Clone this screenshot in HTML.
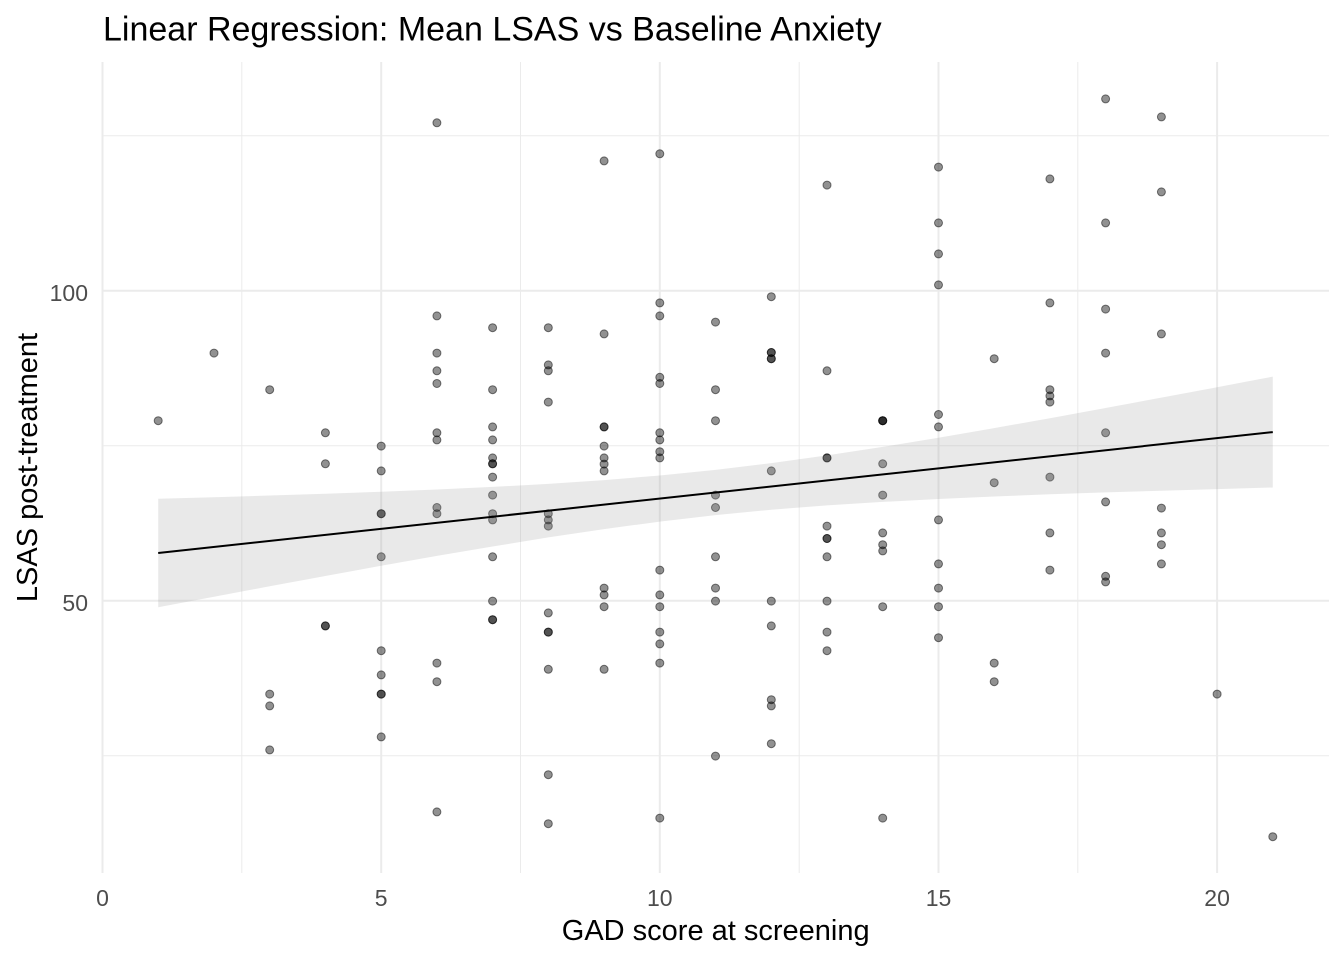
<!DOCTYPE html>
<html><head><meta charset="utf-8"><style>
html,body{margin:0;padding:0;background:#fff;}
svg{display:block;}
.p circle{fill:#000;fill-opacity:0.43;stroke:#000;stroke-opacity:0.5;stroke-width:1;}
text{font-family:"Liberation Sans",Arial,sans-serif;}
</style></head><body>
<svg width="1344" height="960" viewBox="0 0 1344 960" xmlns="http://www.w3.org/2000/svg">
<rect width="1344" height="960" fill="#fff"/>
<g stroke="#ebebeb" stroke-width="1">
<line x1="241.8" y1="62" x2="241.8" y2="873"/>
<line x1="520.5" y1="62" x2="520.5" y2="873"/>
<line x1="799.2" y1="62" x2="799.2" y2="873"/>
<line x1="1077.8" y1="62" x2="1077.8" y2="873"/>
<line x1="102.5" y1="135.7" x2="1329" y2="135.7"/>
<line x1="102.5" y1="445.7" x2="1329" y2="445.7"/>
<line x1="102.5" y1="755.7" x2="1329" y2="755.7"/>
</g>
<g stroke="#ebebeb" stroke-width="2">
<line x1="102.5" y1="62" x2="102.5" y2="873"/>
<line x1="381.2" y1="62" x2="381.2" y2="873"/>
<line x1="659.8" y1="62" x2="659.8" y2="873"/>
<line x1="938.5" y1="62" x2="938.5" y2="873"/>
<line x1="1217.1" y1="62" x2="1217.1" y2="873"/>
<line x1="102.5" y1="290.7" x2="1329" y2="290.7"/>
<line x1="102.5" y1="600.7" x2="1329" y2="600.7"/>
</g>
<g class="p" transform="translate(0,1)">
<circle cx="158.2" cy="419.7" r="4"/>
<circle cx="214.0" cy="352.1" r="4"/>
<circle cx="269.7" cy="388.7" r="4"/><circle cx="269.7" cy="693.1" r="4"/><circle cx="269.7" cy="704.9" r="4"/><circle cx="269.7" cy="748.9" r="4"/>
<circle cx="325.4" cy="431.8" r="4"/><circle cx="325.4" cy="462.8" r="4"/><circle cx="325.4" cy="624.9" r="4"/><circle cx="325.4" cy="624.9" r="4"/>
<circle cx="381.2" cy="445.1" r="4"/><circle cx="381.2" cy="469.9" r="4"/><circle cx="381.2" cy="512.7" r="4"/><circle cx="381.2" cy="512.7" r="4"/><circle cx="381.2" cy="555.8" r="4"/><circle cx="381.2" cy="649.7" r="4"/><circle cx="381.2" cy="673.9" r="4"/><circle cx="381.2" cy="693.1" r="4"/><circle cx="381.2" cy="693.1" r="4"/><circle cx="381.2" cy="735.9" r="4"/>
<circle cx="436.9" cy="121.8" r="4"/><circle cx="436.9" cy="314.9" r="4"/><circle cx="436.9" cy="352.1" r="4"/><circle cx="436.9" cy="369.8" r="4"/><circle cx="436.9" cy="382.5" r="4"/><circle cx="436.9" cy="431.8" r="4"/><circle cx="436.9" cy="438.9" r="4"/><circle cx="436.9" cy="506.5" r="4"/><circle cx="436.9" cy="512.7" r="4"/><circle cx="436.9" cy="662.1" r="4"/><circle cx="436.9" cy="680.7" r="4"/><circle cx="436.9" cy="810.9" r="4"/>
<circle cx="492.6" cy="326.7" r="4"/><circle cx="492.6" cy="388.7" r="4"/><circle cx="492.6" cy="425.9" r="4"/><circle cx="492.6" cy="438.9" r="4"/><circle cx="492.6" cy="456.9" r="4"/><circle cx="492.6" cy="462.8" r="4"/><circle cx="492.6" cy="462.8" r="4"/><circle cx="492.6" cy="476.1" r="4"/><circle cx="492.6" cy="494.1" r="4"/><circle cx="492.6" cy="512.7" r="4"/><circle cx="492.6" cy="518.9" r="4"/><circle cx="492.6" cy="555.8" r="4"/><circle cx="492.6" cy="600.1" r="4"/><circle cx="492.6" cy="618.7" r="4"/><circle cx="492.6" cy="618.7" r="4"/>
<circle cx="548.3" cy="326.7" r="4"/><circle cx="548.3" cy="363.9" r="4"/><circle cx="548.3" cy="369.8" r="4"/><circle cx="548.3" cy="401.1" r="4"/><circle cx="548.3" cy="512.7" r="4"/><circle cx="548.3" cy="518.9" r="4"/><circle cx="548.3" cy="525.1" r="4"/><circle cx="548.3" cy="611.9" r="4"/><circle cx="548.3" cy="631.1" r="4"/><circle cx="548.3" cy="631.1" r="4"/><circle cx="548.3" cy="668.3" r="4"/><circle cx="548.3" cy="773.7" r="4"/><circle cx="548.3" cy="822.7" r="4"/>
<circle cx="604.1" cy="159.9" r="4"/><circle cx="604.1" cy="332.9" r="4"/><circle cx="604.1" cy="425.9" r="4"/><circle cx="604.1" cy="425.9" r="4"/><circle cx="604.1" cy="445.1" r="4"/><circle cx="604.1" cy="456.9" r="4"/><circle cx="604.1" cy="463.1" r="4"/><circle cx="604.1" cy="469.9" r="4"/><circle cx="604.1" cy="587.1" r="4"/><circle cx="604.1" cy="593.9" r="4"/><circle cx="604.1" cy="605.7" r="4"/><circle cx="604.1" cy="668.3" r="4"/>
<circle cx="659.8" cy="152.8" r="4"/><circle cx="659.8" cy="301.9" r="4"/><circle cx="659.8" cy="314.9" r="4"/><circle cx="659.8" cy="376.3" r="4"/><circle cx="659.8" cy="382.5" r="4"/><circle cx="659.8" cy="431.8" r="4"/><circle cx="659.8" cy="438.9" r="4"/><circle cx="659.8" cy="450.7" r="4"/><circle cx="659.8" cy="456.9" r="4"/><circle cx="659.8" cy="569.1" r="4"/><circle cx="659.8" cy="593.9" r="4"/><circle cx="659.8" cy="605.7" r="4"/><circle cx="659.8" cy="631.1" r="4"/><circle cx="659.8" cy="642.9" r="4"/><circle cx="659.8" cy="662.1" r="4"/><circle cx="659.8" cy="817.1" r="4"/>
<circle cx="715.5" cy="321.1" r="4"/><circle cx="715.5" cy="388.7" r="4"/><circle cx="715.5" cy="419.7" r="4"/><circle cx="715.5" cy="494.1" r="4"/><circle cx="715.5" cy="506.5" r="4"/><circle cx="715.5" cy="555.8" r="4"/><circle cx="715.5" cy="587.1" r="4"/><circle cx="715.5" cy="600.1" r="4"/><circle cx="715.5" cy="755.1" r="4"/>
<circle cx="771.3" cy="295.7" r="4"/><circle cx="771.3" cy="351.5" r="4"/><circle cx="771.3" cy="351.5" r="4"/><circle cx="771.3" cy="357.7" r="4"/><circle cx="771.3" cy="357.7" r="4"/><circle cx="771.3" cy="469.9" r="4"/><circle cx="771.3" cy="600.1" r="4"/><circle cx="771.3" cy="624.9" r="4"/><circle cx="771.3" cy="698.7" r="4"/><circle cx="771.3" cy="704.9" r="4"/><circle cx="771.3" cy="742.7" r="4"/>
<circle cx="827.0" cy="184.1" r="4"/><circle cx="827.0" cy="369.8" r="4"/><circle cx="827.0" cy="456.9" r="4"/><circle cx="827.0" cy="456.9" r="4"/><circle cx="827.0" cy="525.1" r="4"/><circle cx="827.0" cy="537.5" r="4"/><circle cx="827.0" cy="537.5" r="4"/><circle cx="827.0" cy="555.8" r="4"/><circle cx="827.0" cy="600.1" r="4"/><circle cx="827.0" cy="631.1" r="4"/><circle cx="827.0" cy="649.7" r="4"/>
<circle cx="882.7" cy="419.7" r="4"/><circle cx="882.7" cy="419.7" r="4"/><circle cx="882.7" cy="419.7" r="4"/><circle cx="882.7" cy="462.8" r="4"/><circle cx="882.7" cy="494.1" r="4"/><circle cx="882.7" cy="531.9" r="4"/><circle cx="882.7" cy="543.7" r="4"/><circle cx="882.7" cy="549.9" r="4"/><circle cx="882.7" cy="605.7" r="4"/><circle cx="882.7" cy="817.1" r="4"/>
<circle cx="938.5" cy="166.1" r="4"/><circle cx="938.5" cy="221.9" r="4"/><circle cx="938.5" cy="252.9" r="4"/><circle cx="938.5" cy="283.9" r="4"/><circle cx="938.5" cy="413.5" r="4"/><circle cx="938.5" cy="425.9" r="4"/><circle cx="938.5" cy="518.9" r="4"/><circle cx="938.5" cy="562.9" r="4"/><circle cx="938.5" cy="587.1" r="4"/><circle cx="938.5" cy="605.7" r="4"/><circle cx="938.5" cy="636.7" r="4"/>
<circle cx="994.2" cy="357.7" r="4"/><circle cx="994.2" cy="481.7" r="4"/><circle cx="994.2" cy="662.1" r="4"/><circle cx="994.2" cy="680.7" r="4"/>
<circle cx="1049.9" cy="177.9" r="4"/><circle cx="1049.9" cy="301.9" r="4"/><circle cx="1049.9" cy="388.7" r="4"/><circle cx="1049.9" cy="394.9" r="4"/><circle cx="1049.9" cy="401.1" r="4"/><circle cx="1049.9" cy="476.1" r="4"/><circle cx="1049.9" cy="531.9" r="4"/><circle cx="1049.9" cy="569.1" r="4"/>
<circle cx="1105.6" cy="97.9" r="4"/><circle cx="1105.6" cy="221.9" r="4"/><circle cx="1105.6" cy="308.1" r="4"/><circle cx="1105.6" cy="352.1" r="4"/><circle cx="1105.6" cy="431.8" r="4"/><circle cx="1105.6" cy="500.9" r="4"/><circle cx="1105.6" cy="575.3" r="4"/><circle cx="1105.6" cy="580.9" r="4"/>
<circle cx="1161.4" cy="115.9" r="4"/><circle cx="1161.4" cy="190.9" r="4"/><circle cx="1161.4" cy="332.9" r="4"/><circle cx="1161.4" cy="507.1" r="4"/><circle cx="1161.4" cy="531.9" r="4"/><circle cx="1161.4" cy="543.7" r="4"/><circle cx="1161.4" cy="562.9" r="4"/>
<circle cx="1217.1" cy="693.1" r="4"/>
<circle cx="1272.8" cy="835.7" r="4"/>
</g>
<polygon fill="#999999" fill-opacity="0.22" points="158.2,498.7 214.0,497.2 269.7,495.5 325.4,493.7 381.2,491.8 436.9,489.5 492.6,486.9 548.3,483.9 604.1,480.1 659.8,475.5 715.5,469.9 771.3,463.1 827.0,455.4 882.7,446.9 938.5,437.7 994.2,428.1 1049.9,418.2 1105.6,408.0 1161.4,397.6 1217.1,387.2 1272.8,376.6 1272.8,487.5 1217.1,489.1 1161.4,490.7 1105.6,492.4 1049.9,494.3 994.2,496.5 938.5,499.0 882.7,501.9 827.0,505.4 771.3,509.7 715.5,515.1 659.8,521.6 604.1,529.1 548.3,537.4 492.6,546.5 436.9,555.9 381.2,565.8 325.4,576.0 269.7,586.3 214.0,596.7 158.2,607.2"/>
<line x1="158.2" y1="553.0" x2="1272.8" y2="432.1" stroke="#000" stroke-width="2"/>
<g font-size="23" fill="#4d4d4d" text-anchor="middle">
<text x="102.5" y="906">0</text>
<text x="381.2" y="906">5</text>
<text x="659.8" y="906">10</text>
<text x="938.5" y="906">15</text>
<text x="1217.1" y="906">20</text>
</g>
<g font-size="23" fill="#4d4d4d" text-anchor="end">
<text x="88" y="300.8">100</text>
<text x="88" y="610.8">50</text>
</g>
<text x="715.7" y="940" font-size="29" fill="#000" text-anchor="middle">GAD score at screening</text>
<text transform="translate(37,467.5) rotate(-90)" font-size="29" fill="#000" text-anchor="middle">LSAS post-treatment</text>
<text x="103" y="40.7" font-size="34" fill="#000">Linear Regression: Mean LSAS vs Baseline Anxiety</text>
</svg>
</body></html>
